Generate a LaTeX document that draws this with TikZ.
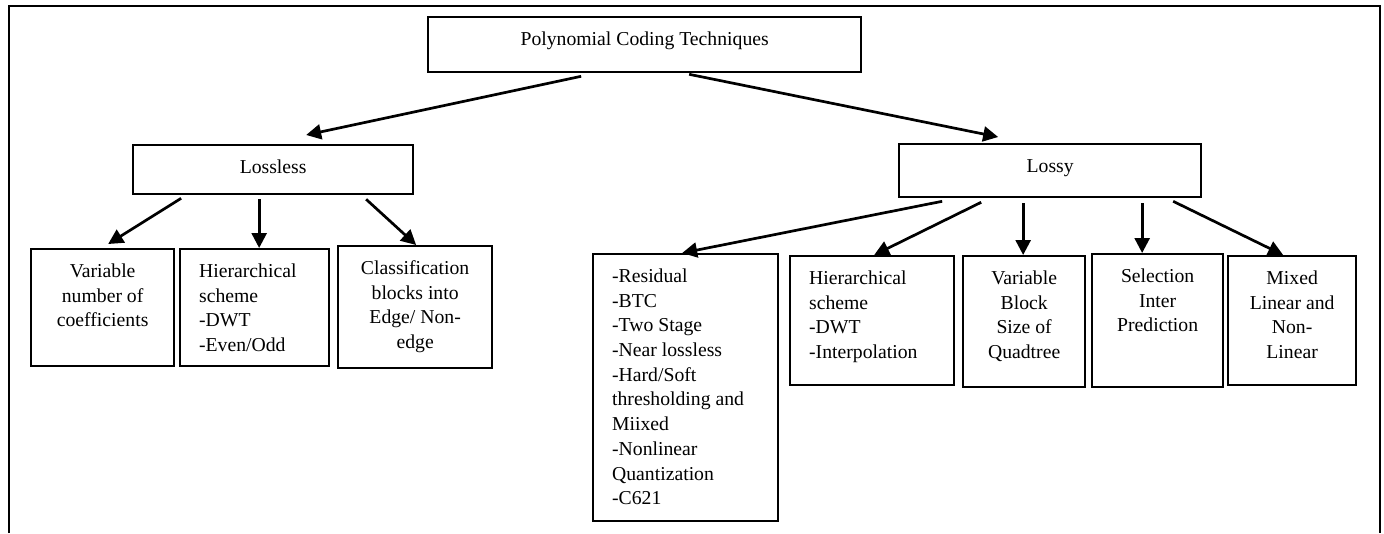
\documentclass[tikz,border=0pt]{standalone}
\usepackage{fontspec}
\setmainfont{Liberation Serif}
\usetikzlibrary{arrows.meta}

\newcommand{\boxtxt}[4]{\parbox[c][#2][t]{#1}{#3\vspace*{11pt}\strut#4}}
\newcommand{\ctr}{\centering}
\newcommand{\lft}{\raggedright\leftskip=19pt}

\begin{document}
\begin{tikzpicture}[x=1pt,y=-1pt,
    cbox/.style={draw,line width=2.3pt,inner sep=0pt,anchor=north west,font=\fontsize{19.7}{24.7}\selectfont},
    arr/.style={line width=2.7pt,-{Triangle[length=15pt,width=15pt]}}]
    \useasboundingbox (0,0) rectangle (1384,533);
    \draw[line width=2.3pt] (9,533) -- (9,6) -- (1380,6) -- (1380,533);

    \node[cbox] (top) at (427,16) {\boxtxt{433pt}{55pt}{\ctr}{Polynomial Coding Techniques}};

    \node[cbox] (lossless) at (132,144) {\boxtxt{280pt}{49pt}{\ctr}{Lossless}};
    \node[cbox] (lossy) at (898,143) {\boxtxt{302pt}{53pt}{\ctr}{Lossy}};

    \node[cbox] (var) at (30,248) {\boxtxt{143pt}{117pt}{\ctr}{Variable\\number of\\coefficients}};
    \node[cbox] (hier) at (179,248) {\boxtxt{149pt}{117pt}{\lft}{Hierarchical\\scheme\\-DWT\\-Even/Odd}};
    \node[cbox] (cls) at (337,245) {\boxtxt{154pt}{122pt}{\ctr}{Classification\\blocks into\\Edge/ Non-\\edge}};

    \node[cbox] (resid) at (592,253) {\boxtxt{185pt}{267pt}{\lft}{-Residual\\-BTC\\-Two Stage\\-Near lossless\\-Hard/Soft\\thresholding and\\Miixed\\-Nonlinear\\Quantization\\-C621}};
    \node[cbox] (hiertwo) at (789,255) {\boxtxt{164pt}{129pt}{\lft}{Hierarchical\\scheme\\-DWT\\-Interpolation}};
    \node[cbox] (vbs) at (962,255) {\boxtxt{122pt}{131pt}{\ctr}{Variable\\Block\\Size of\\Quadtree}};
    \node[cbox] (sel) at (1091,253) {\boxtxt{131pt}{133pt}{\ctr}{Selection\\Inter\\Prediction}};
    \node[cbox] (mixed) at (1227,255) {\boxtxt{128pt}{129pt}{\ctr}{Mixed\\Linear and\\Non-\\Linear}};

    \draw[arr] ([xshift=-63.5pt,yshift=-3pt]top.south) -- ([xshift=33pt,yshift=9pt]lossless.north);
    \draw[arr] ([xshift=44.5pt,yshift=-1pt]top.south) -- ([xshift=-52pt,yshift=6pt]lossy.north);

    \draw[arr] ([xshift=-92pt,yshift=-3pt]lossless.south) -- ([xshift=5.5pt,yshift=4pt]var.north);
    \draw[arr] ([xshift=-14pt,yshift=-4pt]lossless.south) -- ([xshift=4.5pt]hier.north);
    \draw[arr] ([xshift=93pt,yshift=-4pt]lossless.south) -- ([xshift=1pt]cls.north);

    \draw[arr] ([xshift=-108pt,yshift=-3pt]lossy.south) -- ([xshift=-3.5pt]resid.north);
    \draw[arr] ([xshift=-69pt,yshift=-4pt]lossy.south) -- ([xshift=2pt]hiertwo.north);
    \draw[arr] ([xshift=-27pt,yshift=-5pt]lossy.south) -- ([xshift=-1pt]vbs.north);
    \draw[arr] ([xshift=92pt,yshift=-5pt]lossy.south) -- ([xshift=-15.5pt]sel.north);
    \draw[arr] ([xshift=123pt,yshift=-3pt]lossy.south) -- ([xshift=-9pt]mixed.north);
\end{tikzpicture}
\end{document}
